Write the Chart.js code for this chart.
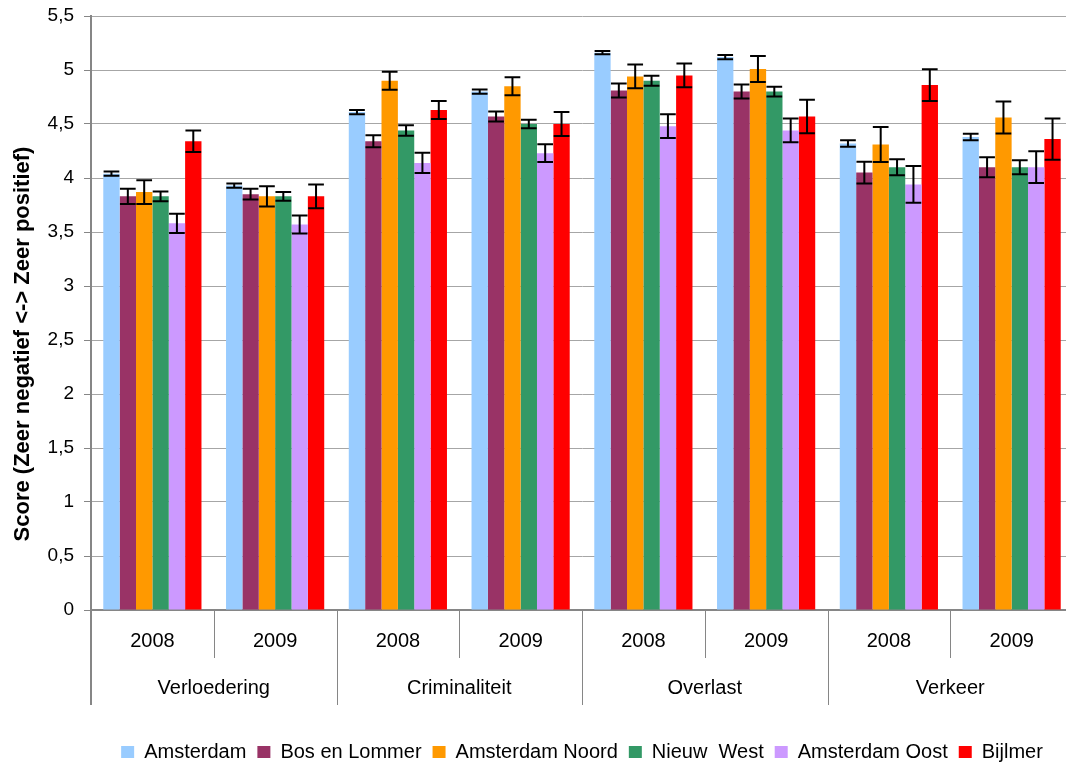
<!DOCTYPE html>
<html>
<head>
<meta charset="utf-8">
<script src="https://cdn.jsdelivr.net/npm/chart.js@4.4.1/dist/chart.umd.min.js"></script>
<style>
  html, body { margin: 0; padding: 0; background: #ffffff; overflow: hidden; }
  #wrap { position: relative; width: 1066px; height: 763px; overflow: hidden; background: #fff; }
  canvas { position: absolute; left: 0; top: 0; }
</style>
</head>
<body>
<div id="wrap"><canvas id="c" width="1162" height="772"></canvas></div>
<script>
// ---- Data ----
const years = ['2008', '2009', '2008', '2009', '2008', '2009', '2008', '2009'];
const groups = ['Verloedering', 'Criminaliteit', 'Overlast', 'Verkeer'];
const yTickValues = [0, 0.5, 1, 1.5, 2, 2.5, 3, 3.5, 4, 4.5, 5, 5.5];
const yTitle = 'Score (Zeer negatief <-> Zeer positief)';

const seriesNames = ['Amsterdam', 'Bos en Lommer', 'Amsterdam Noord', 'Nieuw  West', 'Amsterdam Oost', 'Bijlmer'];
const seriesColors = ['#99CCFF', '#993366', '#FF9900', '#339966', '#CC99FF', '#FF0000'];

const amsterdam      = [4.04, 3.93, 4.61, 4.80, 5.16, 5.12, 4.32, 4.38];
const amsterdamErr   = [0.02, 0.02, 0.02, 0.02, 0.015, 0.02, 0.03, 0.03];
const bosEnLommer    = [3.83, 3.85, 4.34, 4.57, 4.81, 4.80, 4.05, 4.10];
const bosEnLommerErr = [0.07, 0.05, 0.055, 0.046, 0.065, 0.065, 0.10, 0.093];
const noord          = [3.87, 3.83, 4.90, 4.85, 4.94, 5.01, 4.31, 4.56];
const noordErr       = [0.11, 0.094, 0.083, 0.083, 0.11, 0.12, 0.163, 0.148];
const nieuwWest      = [3.83, 3.83, 4.44, 4.50, 4.90, 4.80, 4.10, 4.10];
const nieuwWestErr   = [0.046, 0.04, 0.048, 0.04, 0.046, 0.046, 0.074, 0.065];
const oost           = [3.58, 3.57, 4.14, 4.23, 4.48, 4.44, 3.94, 4.10];
const oostErr        = [0.09, 0.083, 0.094, 0.083, 0.11, 0.11, 0.17, 0.147];
const bijlmer        = [4.34, 3.83, 4.63, 4.50, 4.95, 4.57, 4.86, 4.36];
const bijlmerErr     = [0.10, 0.11, 0.083, 0.11, 0.11, 0.155, 0.148, 0.19];

const seriesValues = [amsterdam, bosEnLommer, noord, nieuwWest, oost, bijlmer];
const seriesErrors = [amsterdamErr, bosEnLommerErr, noordErr, nieuwWestErr, oostErr, bijlmerErr];

const FONT = "'Liberation Sans', Arial, sans-serif";
const AXIS_GREY = '#868686';

// ---- Plugins ----
const errorBars = {
  id: 'errorBars',
  afterDatasetsDraw(chart) {
    const ctx = chart.ctx;
    const y = chart.scales.y;
    ctx.save();
    ctx.strokeStyle = '#000';
    ctx.lineWidth = 2;
    chart.data.datasets.forEach((ds, di) => {
      const meta = chart.getDatasetMeta(di);
      meta.data.forEach((bar, i) => {
        const v = ds.data[i];
        const e = seriesErrors[di][i];
        const yt = y.getPixelForValue(v + e);
        const yb = y.getPixelForValue(v - e);
        const half = bar.width * 0.48;
        ctx.beginPath();
        ctx.moveTo(bar.x, yt); ctx.lineTo(bar.x, yb);
        ctx.moveTo(bar.x - half, yt); ctx.lineTo(bar.x + half, yt);
        ctx.moveTo(bar.x - half, yb); ctx.lineTo(bar.x + half, yb);
        ctx.stroke();
      });
    });
    ctx.restore();
  }
};

const xAxisLabels = {
  id: 'xAxisLabels',
  afterDraw(chart) {
    const ctx = chart.ctx;
    const xs = chart.scales.x;
    const area = chart.chartArea;
    const bottom = area.bottom;
    const n = years.length;
    const step = (xs.right - xs.left) / n;
    ctx.save();
    // separators
    ctx.strokeStyle = AXIS_GREY;
    ctx.lineWidth = 1;
    for (let i = 0; i <= n; i++) {
      const x = Math.round(xs.left + i * step) + 0.5;
      const len = (i % 2 === 0) ? 95 : 48;
      ctx.beginPath();
      ctx.moveTo(x, bottom);
      ctx.lineTo(x, bottom + len);
      ctx.stroke();
    }
    // left axis extension
    ctx.lineWidth = 2;
    ctx.beginPath();
    ctx.moveTo(xs.left, bottom);
    ctx.lineTo(xs.left, bottom + 95);
    ctx.stroke();
    // year labels
    ctx.fillStyle = '#000';
    ctx.textAlign = 'center';
    ctx.textBaseline = 'middle';
    ctx.font = '20px ' + FONT;
    years.forEach((lab, i) => {
      ctx.fillText(lab, xs.getPixelForValue(i), bottom + 31);
    });
    // group labels
    groups.forEach((g, gi) => {
      const cx = (xs.getPixelForValue(gi * 2) + xs.getPixelForValue(gi * 2 + 1)) / 2;
      ctx.fillText(g, cx, bottom + 78);
    });
    // y axis title
    ctx.font = 'bold 22px ' + FONT;
    ctx.translate(23, 344);
    ctx.rotate(-Math.PI / 2);
    ctx.fillText(yTitle, 0, 0);
    ctx.restore();
  }
};

// ---- Chart ----
const datasets = seriesNames.map((name, i) => ({
  label: name,
  data: seriesValues[i],
  backgroundColor: seriesColors[i],
  borderWidth: 0,
  categoryPercentage: 0.8,
  barPercentage: 1.0
}));

new Chart(document.getElementById('c'), {
  type: 'bar',
  data: { labels: years.map((y, i) => groups[Math.floor(i / 2)] + ' ' + y), datasets },
  options: {
    responsive: false,
    animation: false,
    devicePixelRatio: 1,
    layout: { padding: { left: 0, top: 16, right: 89, bottom: 0 } },
    plugins: {
      legend: {
        position: 'bottom',
        fullSize: false,
        labels: {
          boxWidth: 13,
          boxHeight: 12,
          padding: 11,
          color: '#000',
          font: { family: FONT, size: 20 }
        }
      },
      tooltip: { enabled: false }
    },
    scales: {
      x: {
        offset: true,
        grid: { display: false },
        border: { display: true, color: AXIS_GREY, width: 2 },
        ticks: { display: false },
        afterFit(scale) { scale.height = 121; }
      },
      y: {
        min: 0,
        max: 5.5,
        afterBuildTicks(scale) { scale.ticks = yTickValues.map(v => ({ value: v })); },
        grid: { color: '#a6a6a6', lineWidth: 1, tickLength: 7, tickColor: AXIS_GREY },
        border: { display: true, color: AXIS_GREY, width: 2 },
        ticks: {
          color: '#000',
          padding: 10,
          font: { family: FONT, size: 19 },
          callback: v => String(v).replace('.', ',')
        },
        afterFit(scale) { scale.width = 91; scale.paddingTop = 0; scale.paddingBottom = 0; }
      }
    }
  },
  plugins: [errorBars, xAxisLabels]
});
</script>
</body>
</html>
